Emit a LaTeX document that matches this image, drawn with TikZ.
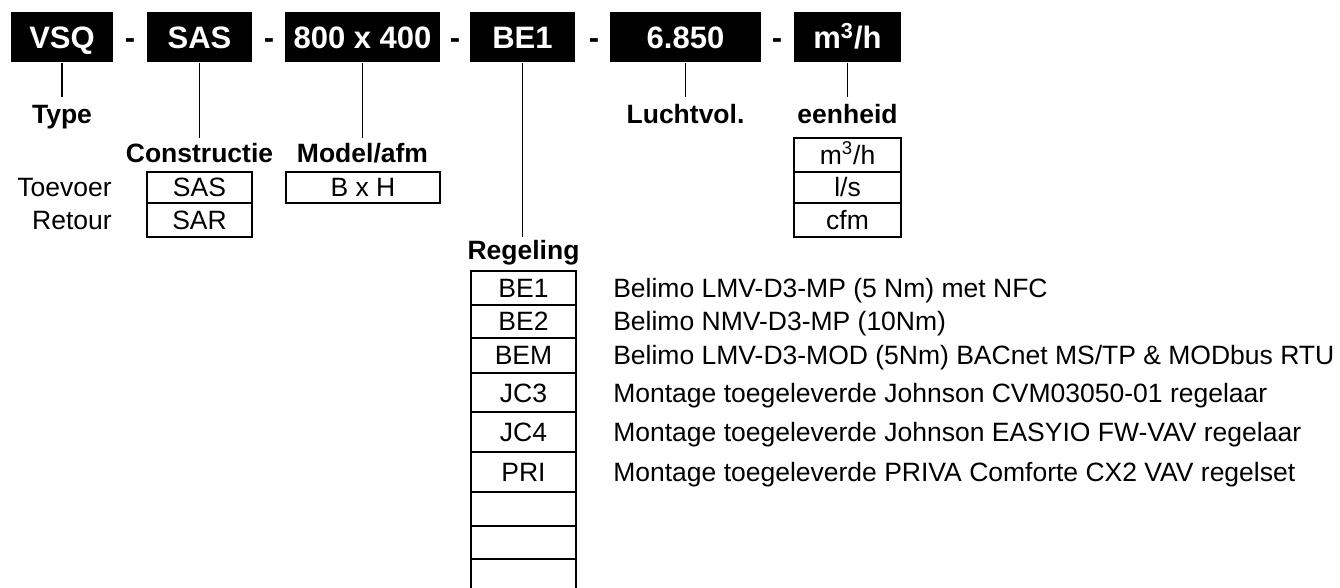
\documentclass[tikz,border=0pt]{standalone}
\usepackage{fontspec}
\setmainfont{Liberation Sans}
\usetikzlibrary{positioning}

\tikzset{
  codebox/.style={fill=black, text=white, inner sep=0pt, minimum height=25pt,
    text height=11pt, text depth=0pt, font=\fontsize{15.5}{18}\selectfont\bfseries},
  dashsign/.style={inner sep=0pt, minimum height=25pt, text height=11pt, text depth=0pt,
    font=\fontsize{15.5}{18}\selectfont\bfseries},
  lbl/.style={anchor=base, inner sep=0pt, font=\fontsize{13.25}{15}\selectfont\bfseries},
  cell/.style={draw, line width=0.9pt, inner sep=0pt, text height=9.5pt, text depth=0pt,
    font=\fontsize{13.25}{15}\selectfont},
  desc/.style={inner sep=0pt, text height=9.5pt, text depth=0pt,
    font=\fontsize{13.25}{15}\selectfont},
  conn/.style={line width=0.9pt}
}

\begin{document}
\begin{tikzpicture}[x=0.5pt, y=-0.5pt]
  \useasboundingbox (0,0) rectangle (1340,588);

  % code line
  \node[codebox, minimum width=51pt] (vsq) at (62,37.5) {VSQ};
  \node[codebox, minimum width=52.5pt] (sas) at (199.5,37.5) {SAS};
  \node[codebox, minimum width=77.5pt] (afm) at (362.5,37.5) {800 x 400};
  \node[codebox, minimum width=52.5pt] (be) at (522.5,37.5) {BE1};
  \node[codebox, minimum width=75.5pt] (vol) at (685.5,37.5) {6.850};
  \node[codebox, minimum width=53.5pt] (unit) at (847.5,37.5) {m\textsuperscript{3}/h};
  \node[dashsign] (d1) at (130,37.5) {-};
  \node[dashsign] (d2) at (269,37.5) {-};
  \node[dashsign] (d3) at (455,37.5) {-};
  \node[dashsign] (d4) at (594,37.5) {-};
  \node[dashsign] (d5) at (777,37.5) {-};

  % line ends
  \coordinate (lvlA) at (0,97);
  \coordinate (lvlB) at (0,138);
  \coordinate (lvlC) at (0,237);
  \draw[conn] (vsq.south) -- (vsq.south |- lvlA);
  \draw[conn] (sas.south) -- (sas.south |- lvlB);
  \draw[conn] (afm.south) -- (afm.south |- lvlB);
  \draw[conn] (be.south) -- (be.south |- lvlC);
  \draw[conn] (vol.south) -- (vol.south |- lvlA);
  \draw[conn] (unit.south) -- (unit.south |- lvlA);

  % headings
  \node[lbl] (type) at (62,124) {Type};
  \node[lbl] (lucht) at (685.5,124) {Luchtvol.};
  \node[lbl] (eenh) at (847.5,124) {eenheid};
  \node[lbl] (constr) at (199.5,163) {Constructie};
  \node[lbl] (model) at (362.5,163) {Model/afm};
  \node[lbl] (regel) at (523.5,260) {Regeling};

  % constructie
  \node[cell, minimum width=52.5pt, minimum height=15.5pt] (sas1) at (199.5,187.5) {SAS};
  \node[cell, minimum width=52.5pt, minimum height=17pt] (sas2) at (199.5,220) {SAR};
  \node[desc, anchor=east, left=17pt of sas1] (toev) {Toevoer};
  \node[desc, anchor=east, left=17pt of sas2] (ret) {Retour};

  % model
  \node[cell, minimum width=77pt, minimum height=15.5pt] (bxh) at (363,187.5) {B x H};

  % eenheid
  \node[cell, minimum width=53.5pt, minimum height=17pt] (u1) at (847.5,155) {m\textsuperscript{3}/h};
  \node[cell, minimum width=53.5pt, minimum height=15.5pt] (u2) at (847.5,187.5) {l/s};
  \node[cell, minimum width=53.5pt, minimum height=17pt] (u3) at (847.5,220) {cfm};

  % regeling
  \node[cell, minimum width=52.5pt, minimum height=17pt] (r1) at (523.5,288) {BE1};
  \node[cell, minimum width=52.5pt, minimum height=16.5pt] (r2) at (523.5,321.5) {BE2};
  \node[cell, minimum width=52.5pt, minimum height=17.5pt] (r3) at (523.5,355.5) {BEM};
  \node[cell, minimum width=52.5pt, minimum height=19.5pt] (r4) at (523.5,392.5) {JC3};
  \node[cell, minimum width=52.5pt, minimum height=20pt] (r5) at (523.5,432) {JC4};
  \node[cell, minimum width=52.5pt, minimum height=20pt] (r6) at (523.5,472) {PRI};
  \node[cell, minimum width=52.5pt, minimum height=17pt] (r7) at (523.5,509) {};
  \node[cell, minimum width=52.5pt, minimum height=16.5pt] (r8) at (523.5,542.5) {};
  \node[cell, minimum width=52.5pt, minimum height=17pt] (r9) at (523.5,576) {};

  \node[desc, right=18pt of r1] (t1) {Belimo LMV-D3-MP (5 Nm) met NFC};
  \node[desc, right=18pt of r2] (t2) {Belimo NMV-D3-MP (10Nm)};
  \node[desc, right=18pt of r3] (t3) {Belimo LMV-D3-MOD (5Nm) BACnet MS/TP \& MODbus RTU};
  \node[desc, right=18pt of r4] (t4) {Montage toegeleverde Johnson CVM03050-01 regelaar};
  \node[desc, right=18pt of r5] (t5) {Montage toegeleverde Johnson EASYIO FW-VAV regelaar};
  \node[desc, right=18pt of r6] (t6) {Montage toegeleverde PRIVA Comforte CX2 VAV regelset};
\end{tikzpicture}
\end{document}
